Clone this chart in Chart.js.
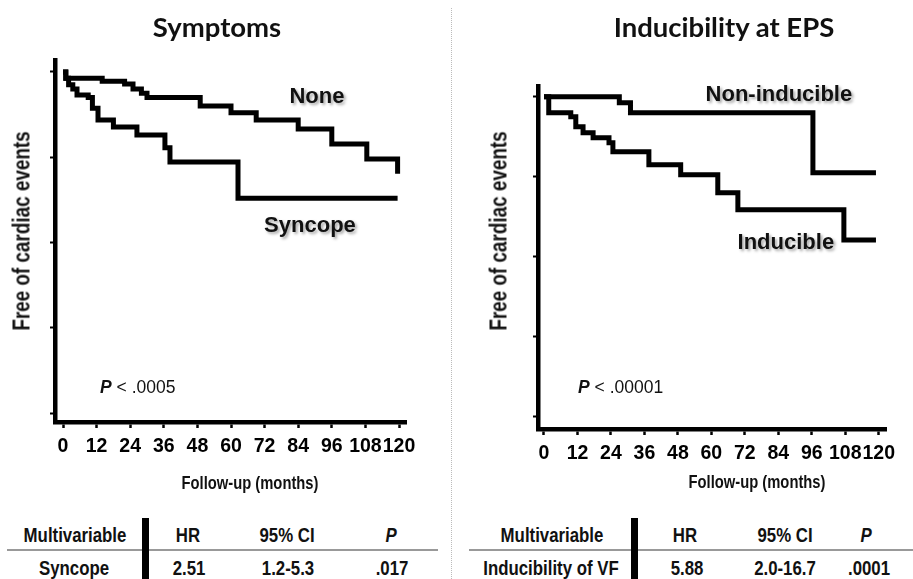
<!DOCTYPE html>
<html>
<head>
<meta charset="utf-8">
<script src="https://cdn.jsdelivr.net/npm/chart.js@4.4.1/dist/chart.umd.min.js"></script>
<style>
  html, body { margin: 0; padding: 0; background: #fff; }
  #fig { position: relative; width: 913px; height: 579px; overflow: hidden;
         font-family: "Liberation Sans", Arial, sans-serif; color: #111; }
  canvas { position: absolute; top: 0; }
  .t { position: absolute; white-space: nowrap; transform: translate(-50%, -50%); line-height: 1; }
  .title { font-family: Lato, "Open Sans", sans-serif; font-weight: 700; font-size: 27.5px; }
  .nar { font-weight: 700; transform: translate(-50%, -50%) scaleX(.82); }
  .ylab { font-weight: 700; font-size: 23px; transform: translate(-50%, -50%) rotate(-90deg) scaleX(.82); }
  .xlab { font-size: 18px; }
  .cell { font-size: 20.5px; }
  .pval { font-size: 17.5px; transform: translate(0, -50%); }
  .pval i, .cell i { font-weight: 700; }
  .sep { position: absolute; left: 451px; top: 8px; height: 571px; border-left: 1px dotted #bbb; }
  .rule { position: absolute; height: 2px; background: #999; top: 549px; }
  .bar { position: absolute; width: 7px; background: #000; top: 518px; height: 61px; }
</style>
</head>
<body>
<div id="fig">
  <canvas id="chartSym" width="456" height="500" style="left:0"></canvas>
  <canvas id="chartEps" width="457" height="500" style="left:456px"></canvas>

  <div class="sep"></div>

  <div class="t title" style="left:217px;top:27px">Symptoms</div>
  <div class="t title" style="left:724px;top:27px">Inducibility at EPS</div>

  <div class="t ylab" style="left:22px;top:231px">Free of cardiac events</div>
  <div class="t ylab" style="left:499px;top:231px">Free of cardiac events</div>

  <div class="t nar xlab" style="left:250px;top:483px">Follow-up (months)</div>
  <div class="t nar xlab" style="left:757px;top:482px">Follow-up (months)</div>

  <div class="t pval" style="left:100px;top:388px"><i>P</i> &lt; .0005</div>
  <div class="t pval" style="left:578px;top:388px"><i>P</i> &lt; .00001</div>

  <div class="rule" style="left:7px;width:431px"></div>
  <div class="rule" style="left:469px;width:444px"></div>
  <div class="bar" style="left:142px"></div>
  <div class="bar" style="left:631px"></div>
  <div id="tables"></div>
</div>

<script>
'use strict';

// ---- data ----
const X_TICKS = [0, 12, 24, 36, 48, 60, 72, 84, 96, 108, 120];
const Y_TICKS = [0.2, 0.4, 0.6, 0.8, 1.0];

// Symptoms panel
const NONE_T    = [0, 1, 14, 22, 25, 28, 30, 49, 60, 69, 84, 96, 108.5, 119.5];
const NONE_S    = [1, 0.985, 0.978, 0.972, 0.96, 0.95, 0.94, 0.92, 0.904, 0.887, 0.866, 0.831, 0.796, 0.761];
const SYNC_T    = [0, 1, 2, 3.5, 5, 9, 10.5, 12.5, 18, 26.4, 36.4, 38.2, 62.5, 119.5];
const SYNC_S    = [1, 0.985, 0.97, 0.96, 0.946, 0.94, 0.915, 0.887, 0.871, 0.852, 0.822, 0.789, 0.704, 0.704];

// Inducibility panel
const NONIND_T  = [0, 27, 31, 96.4, 119];
const NONIND_S  = [1, 0.985, 0.96, 0.81, 0.81];
const IND_T     = [0, 1.7, 9.6, 11.4, 14, 17.6, 23.3, 24.7, 37.6, 49, 62.3, 69.5, 107.5, 119];
const IND_S     = [1, 0.96, 0.95, 0.925, 0.91, 0.8975, 0.885, 0.8625, 0.83, 0.805, 0.76, 0.7175, 0.6425, 0.6425];

// multivariable tables
const TABLE_HEAD = ['Multivariable', 'HR', '95% CI', 'P'];
const SYM_ROW    = ['Syncope', '2.51', '1.2-5.3', '.017'];
const EPS_ROW    = ['Inducibility of VF', '5.88', '2.0-16.7', '.0001'];

const pts = (t, s) => t.map((v, i) => ({ x: v, y: s[i] }));

const curveLabels = {
  id: 'curveLabels',
  afterDatasetsDraw(chart, args, opts) {
    const { ctx, scales: { x, y } } = chart;
    ctx.save();
    ctx.font = 'bold 22px "Liberation Sans", Arial, sans-serif';
    ctx.textAlign = 'center';
    ctx.textBaseline = 'middle';
    ctx.fillStyle = '#111';
    ctx.shadowColor = 'rgba(0,0,0,0.35)';
    ctx.shadowBlur = 3; ctx.shadowOffsetX = 2; ctx.shadowOffsetY = 2;
    (opts.items || []).forEach(it => {
      ctx.fillText(it.text, x.getPixelForValue(it.x), y.getPixelForValue(it.y));
    });
    ctx.restore();
  }
};

function kmChart(id, series, range, pad, labels) {
  const line = d => ({
    data: d, stepped: 'before', borderColor: '#000', borderWidth: 5,
    pointRadius: 0, fill: false, borderJoinStyle: 'miter', borderCapStyle: 'butt'
  });
  return new Chart(document.getElementById(id), {
    type: 'line',
    data: { datasets: series.map(line) },
    options: {
      responsive: false,
      animation: false,
      layout: { padding: pad },
      plugins: { legend: { display: false }, tooltip: { enabled: false }, curveLabels: { items: labels } },
      scales: {
        x: {
          type: 'linear', min: range.x0, max: range.x1,
          afterBuildTicks: a => { a.ticks = X_TICKS.map(v => ({ value: v })); },
          afterFit: s => { s.height = 35; },
          ticks: { autoSkip: false, maxRotation: 0, color: '#000', padding: 7,
                   font: { family: '"Liberation Sans", Arial, sans-serif', weight: 'bold', size: 19.5 } },
          grid: { drawOnChartArea: false, drawTicks: true, tickLength: 6, tickWidth: 2.5, tickColor: '#000' },
          border: { display: true, width: 4.5, color: '#000' }
        },
        y: {
          type: 'linear', min: range.y0, max: range.y1,
          afterBuildTicks: a => { a.ticks = Y_TICKS.map(v => ({ value: v })); },
          afterFit: s => { s.width = 10; },
          ticks: { display: false },
          grid: { drawOnChartArea: false, drawTicks: true, tickLength: 5, tickWidth: 2, tickColor: '#000' },
          border: { display: true, width: 4.5, color: '#000' }
        }
      }
    },
    plugins: [curveLabels]
  });
}

kmChart('chartSym',
  [pts(NONE_T, NONE_S), pts(SYNC_T, SYNC_S)],
  { x0: -2.86, x1: 122.5, y0: 0.179, y1: 1.028 },
  { left: 45, top: 60, right: 50, bottom: 43 },
  [{ text: 'None', x: 90.7, y: 0.941 }, { text: 'Syncope', x: 88.2, y: 0.638 }]);

kmChart('chartEps',
  [pts(NONIND_T, NONIND_S), pts(IND_T, IND_S)],
  { x0: -2.15, x1: 122.6, y0: 0.17, y1: 1.027 },
  { left: 72, top: 86, right: 27, bottom: 36 },
  [{ text: 'Non-inducible', x: 84.2, y: 1.005 }, { text: 'Inducible', x: 86.7, y: 0.635 }]);

// tables as text
function addRow(cells, xs, y) {
  const host = document.getElementById('tables');
  cells.forEach((c, i) => {
    const d = document.createElement('div');
    d.className = 't nar cell';
    d.style.left = xs[i] + 'px';
    d.style.top = y + 'px';
    if (c === 'P') d.innerHTML = '<i>P</i>'; else d.textContent = c;
    host.appendChild(d);
  });
}
addRow(TABLE_HEAD, [75, 188, 287, 391], 535);
addRow(SYM_ROW,    [74, 189, 288, 392], 568);
addRow(TABLE_HEAD, [552, 685, 785, 866], 535);
addRow(EPS_ROW,    [551, 687, 785, 869], 568);
</script>
</body>
</html>
